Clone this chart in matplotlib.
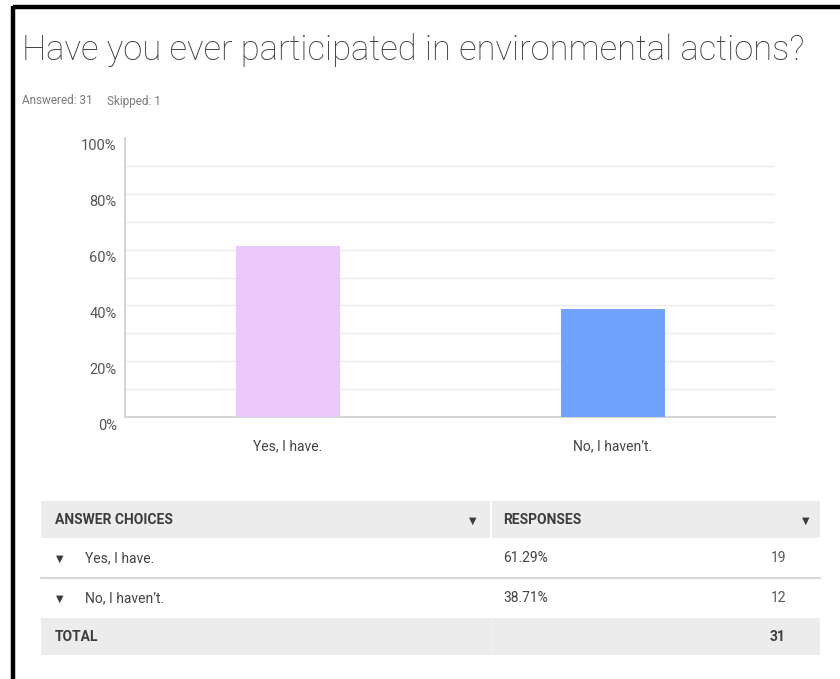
import numpy as np
import matplotlib.pyplot as plt
import matplotlib.transforms as mtransforms
from matplotlib.patches import Rectangle

# survey data
title = "Have you ever participated in environmental actions?"
answered = 31
skipped = 1
choices = ["Yes, I have.", "No, I haven’t."]
percents = [61.29, 38.71]
counts = [19, 12]
bar_colors = ["#ecc8fb", "#6fa3ff"]
y_ticks = [0, 20, 40, 60, 80, 100]

W, H = 840, 679
fig = plt.figure(figsize=(W / 100, H / 100), dpi=100)
fig.patch.set_facecolor("white")

# overlay axes in pixel coordinates for text, table and frame
ov = fig.add_axes([0, 0, 1, 1])
ov.set_xlim(0, W)
ov.set_ylim(H, 0)
ov.axis("off")

# black frame (top and left)
ov.plot([13, W], [7, 7], color="black", lw=3.2, solid_capstyle="butt")
ov.plot([13, 13], [5.5, H], color="black", lw=3.2, solid_capstyle="butt")

ov.text(22, 50, title, fontsize=24.9, family="Roboto", fontweight="light",
        color="#3a3a3a", va="center", ha="left")
t_ans = ov.text(22, 101, f"Answered: {answered}", fontsize=8.5, family="Roboto",
                color="#7a7a7a", va="center")
ov.annotate(f"Skipped: {skipped}", xy=(1, 0.5), xycoords=t_ans,
            xytext=(10, 0), textcoords="offset points", fontsize=8.5,
            family="Roboto", color="#7a7a7a", va="center", ha="left")

# bar chart
left, right, top, bottom = 125, 775, 138, 417
ax = fig.add_axes([left / W, (H - bottom) / H, (right - left) / W, (bottom - top) / H])
ax.set_facecolor("none")
x = np.arange(len(choices))
ax.bar(x, percents, width=0.32, color=bar_colors, zorder=3)
ax.set_xlim(-0.5, 1.5)
ax.set_ylim(0, 100)
for g in range(10, 100, 10):
    ax.axhline(g, color="#ececec", lw=1, zorder=1)
for s in ["top", "right"]:
    ax.spines[s].set_visible(False)
for s in ["left", "bottom"]:
    ax.spines[s].set_color("#d4d4d4")
    ax.spines[s].set_linewidth(1.5)
ax.set_yticks(y_ticks)
ax.set_yticklabels([f"{t}%" for t in y_ticks], family="Roboto", fontsize=10.5, color="#555555")
ax.tick_params(axis="y", length=0, pad=6)
off = mtransforms.ScaledTranslation(0, -7 / 100, fig.dpi_scale_trans)
for lab in ax.get_yticklabels():
    lab.set_transform(lab.get_transform() + off)
ax.set_xticks(x)
ax.set_xticklabels(choices, family="Roboto", fontsize=10, color="#444444")
ax.tick_params(axis="x", length=0, pad=16)

# table
tx0, tx1, colx = 41, 820, 491
rows_y = [(501, 538), (538, 578), (578, 618), (618, 655)]
grey = "#ececec"
for (y0, y1) in [rows_y[0], rows_y[3]]:
    ov.add_patch(Rectangle((tx0, y0), tx1 - tx0, y1 - y0, color=grey, lw=0))
ov.plot([colx, colx], [rows_y[0][0], rows_y[0][1]], color="white", lw=1.5)
ov.plot([colx, colx], [rows_y[3][0], rows_y[3][1]], color="#f2f2f2", lw=1)
ov.plot([tx0, tx1], [578, 578], color="#cfcfcf", lw=1.2)

hdr_kw = dict(family="Roboto", fontsize=10, fontweight="bold", color="#3c3c3c", va="center")
ov.text(55, 520, "ANSWER CHOICES", **hdr_kw)
ov.text(503, 520, "RESPONSES", **hdr_kw)
tri_kw = dict(family="DejaVu Sans", fontsize=7, color="#3c3c3c", va="center", ha="center")
ov.text(473, 521, "▼", **tri_kw)
ov.text(806, 521, "▼", **tri_kw)

for i, (c, p, n) in enumerate(zip(choices, percents, counts)):
    yc = (rows_y[i + 1][0] + rows_y[i + 1][1]) / 2
    ov.text(60, yc + 1, "▼", **tri_kw)
    ov.text(85, yc, c, family="Roboto", fontsize=10, color="#444444", va="center")
    ov.text(503, yc, f"{p:.2f}%", family="Roboto", fontsize=10, color="#444444", va="center")
    ov.text(786, yc, str(n), family="Roboto", fontsize=10,
            color="#5a5a5a", va="center", ha="right")

ov.text(55, 637, "TOTAL", **hdr_kw)
ov.text(786, 637, str(sum(counts)), ha="right", **hdr_kw)

fig.savefig("out.png", dpi=100)
